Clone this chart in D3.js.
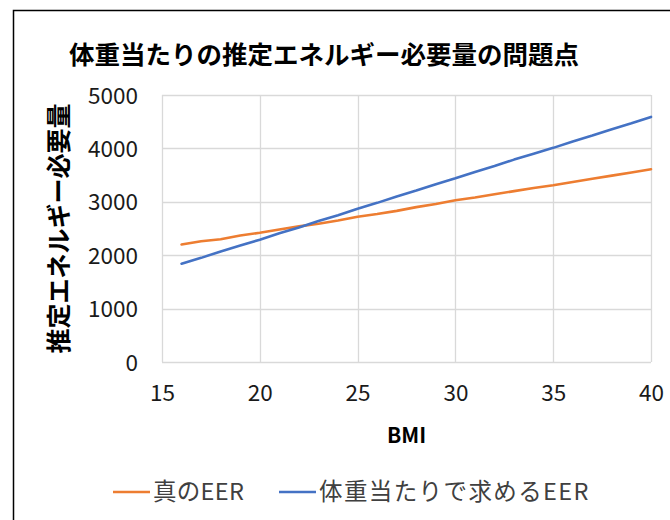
<!DOCTYPE html>
<html>
<head>
<meta charset="utf-8">
<script src="https://cdn.jsdelivr.net/npm/d3@7"></script>
<style>
  body { margin: 0; background: #fff; }
  svg { font-family: "Noto Sans CJK JP", "Noto Sans", sans-serif; }
</style>
</head>
<body>
<div id="chart"></div>
<script>
// data
const bmi = [16, 17, 18, 19, 20, 21, 22, 23, 24, 25, 26, 27, 28, 29, 30, 31, 32, 33, 34, 35, 36, 37, 38, 39, 40];
const trueEER = [2200, 2260, 2300, 2370, 2420, 2480, 2540, 2590, 2650, 2720, 2770, 2830, 2900, 2960, 3030, 3080, 3140, 3200, 3260, 3310, 3370, 3430, 3490, 3550, 3610];
const perKgEER = [1840, 1950, 2070, 2180, 2290, 2410, 2520, 2640, 2750, 2870, 2980, 3100, 3210, 3330, 3440, 3560, 3670, 3790, 3900, 4010, 4130, 4240, 4360, 4470, 4590];
const xTicks = [15, 20, 25, 30, 35, 40];
const yTicks = [0, 1000, 2000, 3000, 4000, 5000];
const seriesNames = ["真のEER", "体重当たりで求めるEER"];
const colors = ["#ED7D31", "#4472C4"];

const W = 670, H = 520;
const margin = { top: 95, right: 19, bottom: 158, left: 162 },
    width = W - margin.left - margin.right,
    height = H - margin.top - margin.bottom;

const svg = d3.select("#chart")
  .append("svg")
  .attr("width", W)
  .attr("height", H);

// outer chart border (cut by the picture edge)
svg.append("rect")
  .attr("x", 13.5).attr("y", 10.5)
  .attr("width", 700).attr("height", 600)
  .attr("fill", "none")
  .attr("stroke", "#000")
  .attr("stroke-width", 1.5);

svg.append("text")
  .attr("x", 69)
  .attr("y", 64)
  .attr("font-size", 25.5)
  .attr("font-weight", "bold")
  .attr("fill", "#000")
  .text("体重当たりの推定エネルギー必要量の問題点");

const g = svg.append("g")
  .attr("transform", `translate(${margin.left},${margin.top})`);

const x = d3.scaleLinear().domain([15, 40]).range([0, width]);
const y = d3.scaleLinear().domain([0, 5000]).range([height, 0]);

// grid
g.append("g")
  .selectAll("line.h")
  .data(yTicks)
  .join("line")
    .attr("x1", 0).attr("x2", width)
    .attr("y1", d => Math.round(y(d)) + 0.5)
    .attr("y2", d => Math.round(y(d)) + 0.5)
    .attr("stroke", "#d9d9d9")
    .attr("stroke-width", 1.3);
g.append("g")
  .selectAll("line.v")
  .data(xTicks)
  .join("line")
    .attr("y1", 0).attr("y2", height)
    .attr("x1", d => Math.round(x(d)) + 0.5)
    .attr("x2", d => Math.round(x(d)) + 0.5)
    .attr("stroke", "#d9d9d9")
    .attr("stroke-width", 1.3);

// axes (labels only)
const xAxis = g.append("g")
  .attr("transform", `translate(0,${height})`)
  .call(d3.axisBottom(x).tickValues(xTicks).tickFormat(d3.format("d")).tickSize(0).tickPadding(24));
const yAxis = g.append("g")
  .call(d3.axisLeft(y).tickValues(yTicks).tickFormat(d3.format("d")).tickSize(0).tickPadding(24));
[xAxis, yAxis].forEach(a => {
  a.select(".domain").remove();
  a.selectAll("text")
    .attr("font-family", "'Noto Sans CJK JP', sans-serif")
    .attr("font-size", 22.5)
    .attr("fill", "#1a1a1a");
});
yAxis.selectAll("text").attr("dy", "0.36em");
xAxis.selectAll("text").attr("dy", "0.68em");

// lines
const line = d3.line()
  .x((d, i) => x(bmi[i]))
  .y(d => y(d));
[trueEER, perKgEER].forEach((s, k) => {
  g.append("path")
    .datum(s)
    .attr("fill", "none")
    .attr("stroke", colors[k])
    .attr("stroke-width", 2.6)
    .attr("stroke-linejoin", "round")
    .attr("stroke-linecap", "round")
    .attr("d", line);
});

// axis titles
svg.append("text")
  .attr("x", margin.left + width / 2)
  .attr("y", 443)
  .attr("text-anchor", "middle")
  .attr("font-size", 21)
  .attr("font-weight", "bold")
  .attr("fill", "#000")
  .text("BMI");

svg.append("text")
  .attr("transform", `translate(68,${margin.top + height / 2}) rotate(-90)`)
  .attr("text-anchor", "middle")
  .attr("font-size", 25)
  .attr("font-weight", "bold")
  .attr("fill", "#000")
  .text("推定エネルギー必要量");

// legend
const legendX = [113, 279];
seriesNames.forEach((name, k) => {
  const lg = svg.append("g").attr("transform", `translate(${legendX[k]},492)`);
  lg.append("line")
    .attr("x1", 0).attr("x2", 37)
    .attr("y1", 0).attr("y2", 0)
    .attr("stroke", colors[k])
    .attr("stroke-width", 2.6);
  lg.append("text")
    .attr("x", 40)
    .attr("y", 0)
    .attr("dy", "0.36em")
    .attr("font-size", 23.5)
    .attr("letter-spacing", k === 1 ? 1.4 : 0.3)
    .attr("fill", "#404040")
    .text(name);
});
</script>
</body>
</html>
